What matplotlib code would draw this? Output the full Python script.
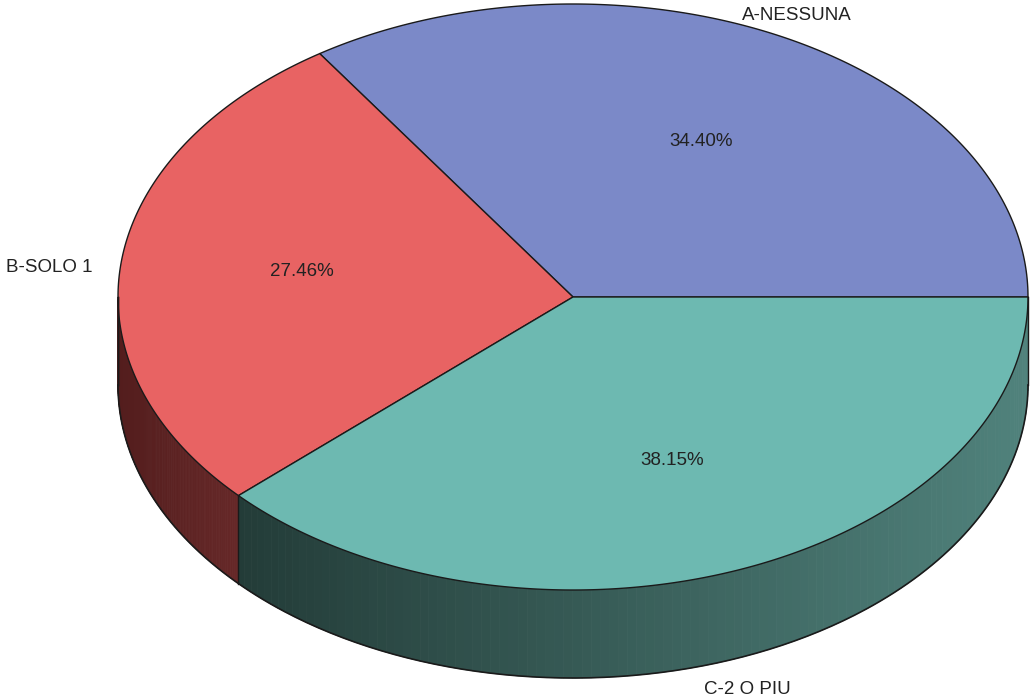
import numpy as np
import matplotlib.pyplot as plt
from matplotlib.patches import Polygon
from matplotlib.colors import to_rgb

labels = ['A-NESSUNA', 'B-SOLO 1', 'C-2 O PIU']
shares = [34.40, 27.46, 38.15]
top_colors = ['#7b89c8', '#e86363', '#6db9b1']
side_dark = ['#3a4270', '#531d1d', '#233c38']
side_light = ['#5a66a0', '#662828', '#50827c']

# ellipse geometry in pixel space
cx, cy = 573, 297
rx, ry = 455, 293
depth = 88

plt.rcParams['font.family'] = ['Liberation Sans', 'DejaVu Sans']
fig = plt.figure(figsize=(10.32, 7.0), dpi=100)
ax = fig.add_axes([0, 0, 1, 1])
ax.set_xlim(0, 1032)
ax.set_ylim(700, 0)
ax.axis('off')


def pt(a, dy=0.0):
    r = np.radians(a)
    return cx + rx * np.cos(r), cy - ry * np.sin(r) + dy


fracs = np.array(shares) / sum(shares)
edges = np.concatenate([[0], np.cumsum(fracs) * 360])

# side walls, only the front half (180..360 deg) is visible
for i in range(len(shares)):
    a0, a1 = max(edges[i], 180), min(edges[i + 1], 360)
    if a1 <= a0:
        continue
    angs = np.linspace(a0, a1, 120)
    c0, c1 = np.array(to_rgb(side_dark[i])), np.array(to_rgb(side_light[i]))
    x_lo, x_hi = pt(a0)[0], pt(a1)[0]
    for s, e in zip(angs[:-1], angs[1:]):
        p1, p2 = pt(s), pt(e)
        q = [p1, p2, pt(e, depth), pt(s, depth)]
        t = ((p1[0] + p2[0]) / 2 - x_lo) / max(x_hi - x_lo, 1)
        col = c0 + (c1 - c0) * np.clip(t, 0, 1)
        ax.add_patch(Polygon(q, closed=True, facecolor=col, edgecolor=col, lw=0.6))
    # divider between walls
    ax.plot([pt(a0)[0]] * 2, [pt(a0)[1], pt(a0, depth)[1]], color='#1a1a1a', lw=1)

bot = np.linspace(180, 360, 300)
bx, by = zip(*[pt(a, depth) for a in bot])
ax.plot(bx, by, color='#1a1a1a', lw=1.2)
for a in (180, 360):
    ax.plot([pt(a)[0]] * 2, [pt(a)[1], pt(a, depth)[1]], color='#1a1a1a', lw=1)

# top face
for i in range(len(shares)):
    angs = np.linspace(edges[i], edges[i + 1], 200)
    verts = [(cx, cy)] + [pt(a) for a in angs]
    ax.add_patch(Polygon(verts, closed=True, facecolor=top_colors[i],
                         edgecolor='#1a1a1a', lw=1, joinstyle='round'))

# percentages and category names
fs = 13.5
for i, lab in enumerate(labels):
    mid = (edges[i] + edges[i + 1]) / 2
    px, py = pt(mid)
    ix = cx + (px - cx) * 0.6
    iy = cy + (py - cy) * 0.6
    if i == 1:
        iy = cy + (py - cy) * 0.75
    ax.text(ix, iy, f'{shares[i]:.2f}%', ha='center', va='center', fontsize=fs, color='#222222')

ax.text(797, 16, labels[0], ha='center', va='center', fontsize=fs, color='#222222')
ax.text(92, 268, labels[1], ha='right', va='center', fontsize=fs, color='#222222')
ax.text(747, 689, labels[2], ha='center', va='center', fontsize=fs, color='#222222')

fig.savefig('out.png', dpi=100, facecolor='white')
